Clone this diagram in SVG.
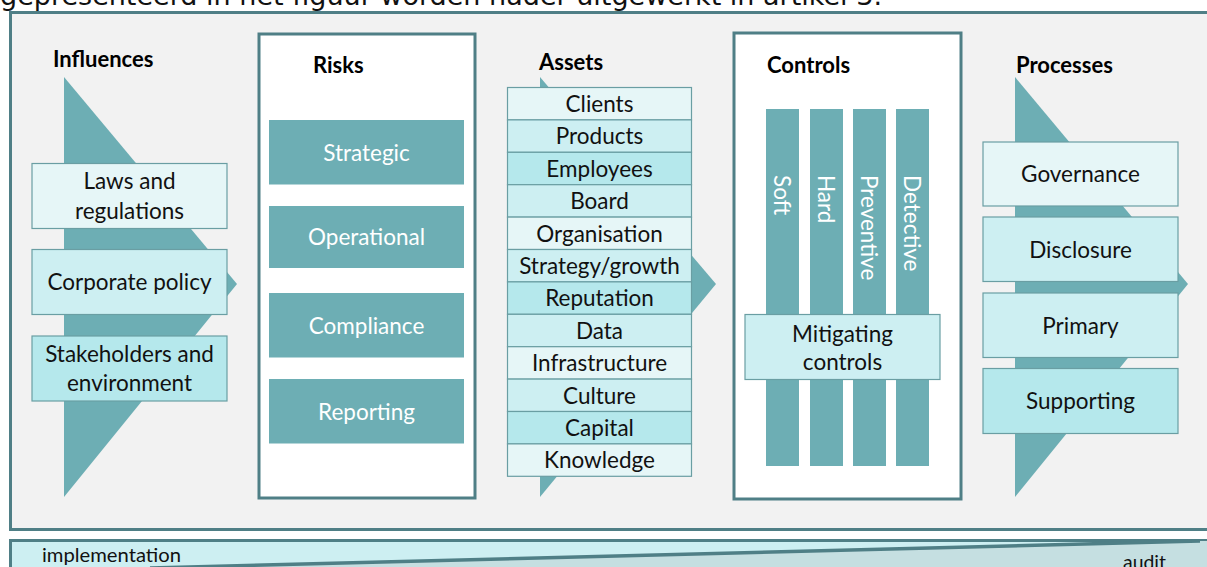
<svg xmlns="http://www.w3.org/2000/svg" width="1207" height="567" viewBox="0 0 1207 567">
<style>
.t{font-family:Lato,"Liberation Sans",sans-serif;font-size:22.5px;fill:#111;text-anchor:middle}
.w{font-family:Lato,"Liberation Sans",sans-serif;font-size:22.5px;fill:#fff;text-anchor:middle}
.v{font-family:Lato,"Liberation Sans",sans-serif;font-size:22.5px;fill:#fff}
.h{font-family:Lato,"Liberation Sans",sans-serif;font-size:22px;font-weight:bold;fill:#000}
.s{font-family:Lato,"Liberation Sans",sans-serif;font-size:20px;fill:#111}
.arrow{fill:#6daeb4}
.risk{fill:#6daeb4}
.bar{fill:#6daeb4}
.panel{fill:#fff;stroke:#4f7f86;stroke-width:3}
.L{fill:#e6f6f7;stroke:#6a9ea3;stroke-width:1.2}
.M{fill:#cdeff2;stroke:#6a9ea3;stroke-width:1.2}
.D{fill:#b5e8ec;stroke:#6a9ea3;stroke-width:1.2}
</style>
<rect x="0" y="0" width="1207" height="567" fill="#fff"/>
<text x="0" y="5" font-family="'DejaVu Sans',Verdana,sans-serif" font-size="26" fill="#111" textLength="882" lengthAdjust="spacingAndGlyphs">gepresenteerd in het figuur worden nader uitgewerkt in artikel 3.</text>
<rect id="frame" x="10.5" y="12.5" width="1210" height="517" fill="#f2f2f2" stroke="#4f7f86" stroke-width="3"/>

<g id="connectors">
<polygon class="arrow" points="64,77 237,284 64,497"/>
<polygon class="arrow" points="540,77 716,284 540,497"/>
<polygon class="arrow" points="1015,77 1188,284 1015,497"/>
</g>

<g id="influences">
<text class="h" x="53" y="67">Influences</text>
<g id="laws"><rect class="L" x="32" y="163.5" width="195" height="65"/><text class="t" x="129.5" y="188.5">Laws and</text><text class="t" x="129.5" y="218.5">regulations</text></g>
<g id="corporate-policy"><rect class="M" x="32" y="249.5" width="195" height="65"/><text class="t" x="129.5" y="290">Corporate policy</text></g>
<g id="stakeholders"><rect class="D" x="32" y="336" width="195" height="65"/><text class="t" x="129.5" y="362">Stakeholders and</text><text class="t" x="129.5" y="391">environment</text></g>
</g>

<g id="risks">
<rect class="panel" x="259" y="34" width="216" height="464"/>
<text class="h" x="313" y="73">Risks</text>
<g id="strategic"><rect class="risk" x="269" y="120" width="195" height="64.5"/><text class="w" x="366.5" y="161">Strategic</text></g>
<g id="operational"><rect class="risk" x="269" y="206" width="195" height="62"/><text class="w" x="366.5" y="245">Operational</text></g>
<g id="compliance"><rect class="risk" x="269" y="293" width="195" height="64.5"/><text class="w" x="366.5" y="333.5">Compliance</text></g>
<g id="reporting"><rect class="risk" x="269" y="379" width="195" height="64.5"/><text class="w" x="366.5" y="419.5">Reporting</text></g>
</g>

<g id="assets">
<text class="h" x="539" y="69.5">Assets</text>
<g id="clients"><rect class="L" x="507.5" y="87.5" width="184" height="32.4"/><text class="t" x="599.5" y="111.9">Clients</text></g>
<g id="products"><rect class="M" x="507.5" y="119.9" width="184" height="32.4"/><text class="t" x="599.5" y="144.3">Products</text></g>
<g id="employees"><rect class="D" x="507.5" y="152.3" width="184" height="32.4"/><text class="t" x="599.5" y="176.7">Employees</text></g>
<g id="board"><rect class="M" x="507.5" y="184.7" width="184" height="32.4"/><text class="t" x="599.5" y="209.1">Board</text></g>
<g id="organisation"><rect class="L" x="507.5" y="217.1" width="184" height="32.4"/><text class="t" x="599.5" y="241.5">Organisation</text></g>
<g id="strategy"><rect class="M" x="507.5" y="249.5" width="184" height="32.4"/><text class="t" x="599.5" y="273.9">Strategy/growth</text></g>
<g id="reputation"><rect class="D" x="507.5" y="281.9" width="184" height="32.4"/><text class="t" x="599.5" y="306.3">Reputation</text></g>
<g id="data"><rect class="M" x="507.5" y="314.3" width="184" height="32.4"/><text class="t" x="599.5" y="338.7">Data</text></g>
<g id="infrastructure"><rect class="L" x="507.5" y="346.7" width="184" height="32.4"/><text class="t" x="599.5" y="371.1">Infrastructure</text></g>
<g id="culture"><rect class="M" x="507.5" y="379.1" width="184" height="32.4"/><text class="t" x="599.5" y="403.5">Culture</text></g>
<g id="capital"><rect class="D" x="507.5" y="411.5" width="184" height="32.4"/><text class="t" x="599.5" y="435.9">Capital</text></g>
<g id="knowledge"><rect class="L" x="507.5" y="443.9" width="184" height="32.4"/><text class="t" x="599.5" y="468.3">Knowledge</text></g>
</g>

<g id="controls">
<rect class="panel" x="734" y="33" width="227" height="466"/>
<text class="h" x="767" y="73">Controls</text>
<g id="soft"><rect class="bar" x="766" y="109" width="33" height="357"/><text class="v" transform="translate(774,175) rotate(90)">Soft</text></g>
<g id="hard"><rect class="bar" x="810" y="109" width="33" height="357"/><text class="v" transform="translate(818,175) rotate(90)">Hard</text></g>
<g id="preventive"><rect class="bar" x="853" y="109" width="33" height="357"/><text class="v" transform="translate(861,175) rotate(90)">Preventive</text></g>
<g id="detective"><rect class="bar" x="896" y="109" width="33" height="357"/><text class="v" transform="translate(904,175) rotate(90)">Detective</text></g>
<g id="mitigating"><rect class="M" x="745" y="314.5" width="195" height="65"/><text class="t" x="842.5" y="342">Mitigating</text><text class="t" x="842.5" y="370">controls</text></g>
</g>

<g id="processes">
<text class="h" x="1016" y="73">Processes</text>
<g id="governance"><rect class="L" x="983" y="142" width="195" height="64"/><text class="t" x="1080.5" y="182">Governance</text></g>
<g id="disclosure"><rect class="M" x="983" y="217" width="195" height="64.5"/><text class="t" x="1080.5" y="257.5">Disclosure</text></g>
<g id="primary"><rect class="M" x="983" y="293" width="195" height="64.5"/><text class="t" x="1080.5" y="333.5">Primary</text></g>
<g id="supporting"><rect class="D" x="983" y="368.5" width="195" height="65"/><text class="t" x="1080.5" y="409">Supporting</text></g>
</g>

<g id="strip">
<rect x="10.5" y="540.5" width="1210" height="40" fill="#cdeff2" stroke="#4f7f86" stroke-width="3"/>
<polygon points="185,567 1195,541 1210,541 1210,580 185,580" fill="#c5dfe1"/>
<line x1="150" y1="567.9" x2="1200" y2="541" stroke="#4f7f86" stroke-width="3.5"/>
<text class="s" x="42" y="562" textLength="139" lengthAdjust="spacingAndGlyphs">implementation</text>
<text class="s" x="1123" y="569" textLength="43" lengthAdjust="spacingAndGlyphs">audit</text>
</g>
</svg>
